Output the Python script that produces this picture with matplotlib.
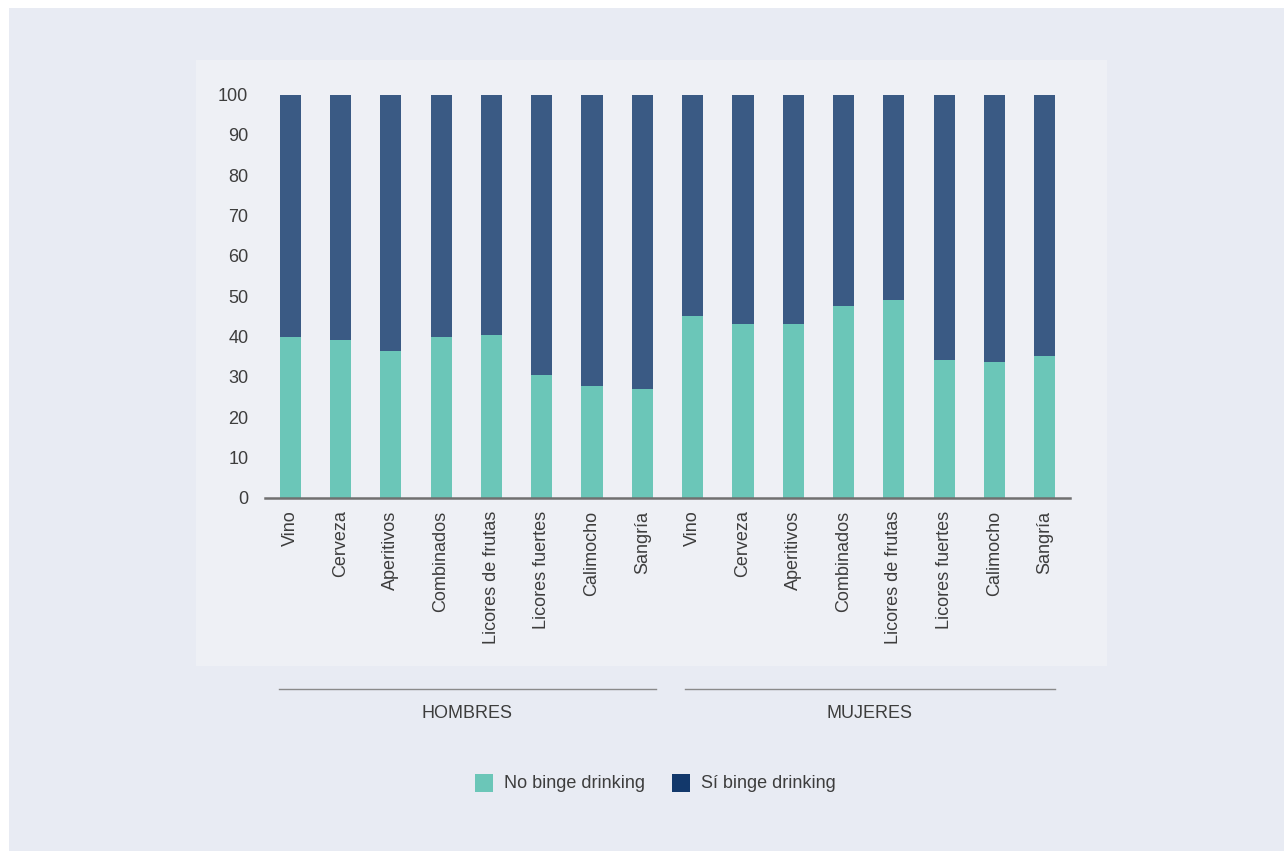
import matplotlib
matplotlib.use("Agg")
import matplotlib.pyplot as plt
from matplotlib.patches import Rectangle
from matplotlib.lines import Line2D
import numpy as np

plt.rcParams['font.family'] = ['Liberation Sans', 'DejaVu Sans']

categories = ["Vino", "Cerveza", "Aperitivos", "Combinados", "Licores de frutas",
              "Licores fuertes", "Calimocho", "Sangría"]
groups = ["HOMBRES", "MUJERES"]
no_binge_hombres = [39.8, 39.1, 36.4, 39.8, 40.3, 30.5, 27.8, 27.1]
no_binge_mujeres = [45.0, 43.0, 43.0, 47.7, 49.0, 34.3, 33.7, 35.1]
series_labels = ["No binge drinking", "Sí binge drinking"]

labels = categories + categories
no_binge = np.array(no_binge_hombres + no_binge_mujeres)
si_binge = 100 - no_binge

W, H = 1284, 851
fig = plt.figure(figsize=(W / 100, H / 100), dpi=100)
fig.patch.set_facecolor("white")

def fx(px):
    return px / W

def fy(py):
    return 1 - py / H

# outer background
fig.patches.append(Rectangle((fx(9), 0), 1 - fx(9), fy(8), transform=fig.transFigure,
                             facecolor="#e8ebf3", edgecolor="none", zorder=-3))
# inner panel
fig.patches.append(Rectangle((fx(196), fy(666)), fx(1107) - fx(196), fy(60) - fy(666),
                             transform=fig.transFigure, facecolor="#eef0f5",
                             edgecolor="none", zorder=-2))

ax = fig.add_axes([fx(265), fy(498), fx(1070) - fx(265), fy(94.5) - fy(498)])
ax.set_facecolor("none")
x = np.arange(len(labels))
teal = "#6bc6b8"
navy = "#3a5a84"
ax.bar(x, no_binge, width=0.42, color=teal, edgecolor="none")
ax.bar(x, si_binge, width=0.42, bottom=no_binge, color=navy, edgecolor="none")
ax.set_xlim(-0.5, 15.5)
ax.set_ylim(0, 100)
ax.set_yticks(np.arange(0, 101, 10))
ax.set_xticks(x)
ax.set_xticklabels(labels, rotation=90, fontsize=13, color="#3d3d3d")
ax.tick_params(axis="y", length=0, labelsize=13, labelcolor="#3d3d3d", pad=12)
ax.tick_params(axis="x", length=0, pad=9)
for s in ["top", "right", "left"]:
    ax.spines[s].set_visible(False)
ax.spines["bottom"].set_color("#707070")
ax.spines["bottom"].set_linewidth(1.8)

# group lines and labels
for (x0, x1, xc), g in zip([(279, 656, 467), (685, 1055, 870)], groups):
    fig.add_artist(Line2D([fx(x0), fx(x1)], [fy(689), fy(689)], transform=fig.transFigure,
                          color="#8a8a8a", linewidth=1.0))
    fig.text(fx(xc), fy(714), g, ha="center", va="center", fontsize=13, color="#3d3d3d")

# legend
leg_colors = [teal, "#12386b"]
for (sx, tx), c, lab in zip([(475, 504), (672, 701)], leg_colors, series_labels):
    fig.patches.append(Rectangle((fx(sx), fy(792)), fx(18), 18 / H, transform=fig.transFigure,
                                 facecolor=c, edgecolor="none"))
    fig.text(fx(tx), fy(784), lab, ha="left", va="center", fontsize=13, color="#3d3d3d")

fig.savefig("out.png", dpi=100, facecolor=fig.get_facecolor())
